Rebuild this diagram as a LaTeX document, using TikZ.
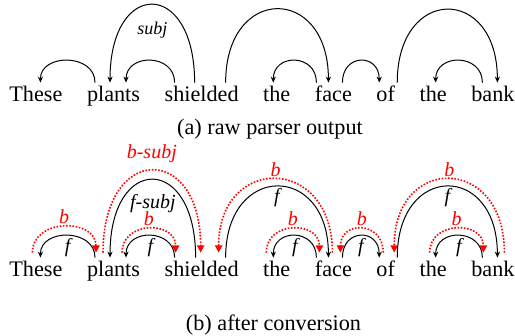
\documentclass[tikz,border=0pt]{standalone}
\usepackage{fontspec}
\setmainfont{Liberation Serif}
\usetikzlibrary{positioning, arrows.meta}

\newcommand{\wordsize}{\fontsize{11.1}{13}\selectfont}
\newcommand{\labsize}{\fontsize{10}{12}\selectfont\itshape}
\newcommand{\toplabsize}{\fontsize{9}{11}\selectfont\itshape}

\begin{document}
\begin{tikzpicture}[x=0.5pt, y=-0.5pt, node distance=11.9pt]
\tikzstyle{word} = [inner sep=0pt, text height=9.5pt, text depth=2.5pt, font=\wordsize]
\tikzstyle{fwd} = [draw, line width=0.5pt, -{Stealth[length=3pt, width=2.6pt]}]
\tikzstyle{bwd} = [draw, red, line width=0.8pt, dash pattern=on 0.8pt off 0.8pt,
    -{Triangle[length=3.6pt, width=3.6pt]}]
\tikzstyle{flabel} = [font=\labsize, inner sep=1pt]
\tikzstyle{blabel} = [font=\labsize, text=red, inner sep=1pt]

\useasboundingbox (0,0) rectangle (515,336);

% (a) raw parser output
\node (a1) [word, anchor=base west] at (9,102) {These};
\node (a2) [word, right=of a1] {plants};
\node (a3) [word, right=of a2] {shielded};
\node (a4) [word, right=of a3] {the};
\node (a5) [word, right=of a4] {face};
\node (a6) [word, right=of a5] {of};
\node (a7) [word, right=of a6] {the};
\node (a8) [word, right=of a7] {bank};
\node (capa) [font=\wordsize, anchor=base] at (270,135) {(a) raw parser output};

\path[fwd] ([xshift=-9.25pt]a2.north) .. controls +(0pt,14.7pt) and +(0pt,14.7pt) .. ([xshift=2.25pt]a1.north);
\path[fwd] ([xshift=-13.5pt]a3.north) .. controls +(0pt,14.7pt) and +(0pt,14.7pt) .. ([xshift=6.25pt]a2.north);
\path[fwd] ([xshift=-3.5pt]a3.north) .. controls +(0pt,52pt) and +(0pt,52pt) .. ([xshift=-1.75pt]a2.north)
    node[midway, below=7.5pt, flabel, font=\toplabsize] {subj};
\path[fwd] ([xshift=12pt]a3.north) .. controls +(0pt,49pt) and +(0pt,49pt) .. ([xshift=-2.5pt]a5.north);
\path[fwd] ([xshift=-8.5pt]a5.north) .. controls +(0pt,14.7pt) and +(0pt,14.7pt) .. ([xshift=-1.75pt]a4.north);
\path[fwd] ([xshift=4.5pt]a5.north) .. controls +(0pt,14.7pt) and +(0pt,14.7pt) .. ([xshift=-3.25pt]a6.north);
\path[fwd] ([xshift=5.75pt]a6.north) .. controls +(0pt,48.7pt) and +(0pt,48.7pt) .. ([xshift=2.25pt]a8.north);
\path[fwd] ([xshift=-5.25pt]a8.north) .. controls +(0pt,14.7pt) and +(0pt,14.7pt) .. ([xshift=1.25pt]a7.north);

% (b) after conversion
\node (b1) [word, anchor=base west] at (9,277) {These};
\node (b2) [word, right=of b1] {plants};
\node (b3) [word, right=of b2] {shielded};
\node (b4) [word, right=of b3] {the};
\node (b5) [word, right=of b4] {face};
\node (b6) [word, right=of b5] {of};
\node (b7) [word, right=of b6] {the};
\node (b8) [word, right=of b7] {bank};
\node (capb) [font=\wordsize, anchor=base] at (273.5,331) {(b) after conversion};

% forward arcs
\path[fwd] ([xshift=-9.25pt]b2.north) .. controls +(0pt,14.7pt) and +(0pt,14.7pt) .. ([xshift=2.25pt]b1.north)
    node[midway, below, flabel] {f};
\path[fwd] ([xshift=-13.5pt]b3.north) .. controls +(0pt,14.7pt) and +(0pt,14.7pt) .. ([xshift=6.25pt]b2.north)
    node[midway, below, flabel] {f};
\path[fwd] ([xshift=-3pt]b3.north) .. controls +(0pt,52pt) and +(0pt,52pt) .. ([xshift=-1.75pt]b2.north)
    node[midway, below=6pt, flabel] {f-subj};
\path[fwd] ([xshift=12pt]b3.north) .. controls +(0pt,47.5pt) and +(0pt,47.5pt) .. ([xshift=-2.5pt]b5.north)
    node[midway, below, flabel] {f};
\path[fwd] ([xshift=-8.5pt]b5.north) .. controls +(0pt,14.7pt) and +(0pt,14.7pt) .. ([xshift=-1.75pt]b4.north)
    node[midway, below, flabel] {f};
\path[fwd] ([xshift=4.5pt]b5.north) .. controls +(0pt,14.7pt) and +(0pt,14.7pt) .. ([xshift=-3.25pt]b6.north)
    node[midway, below, flabel] {f};
\path[fwd] ([xshift=5.75pt]b6.north) .. controls +(0pt,47.5pt) and +(0pt,47.5pt) .. ([xshift=2.25pt]b8.north)
    node[midway, below, flabel] {f};
\path[fwd] ([xshift=-5.25pt]b8.north) .. controls +(0pt,14.7pt) and +(0pt,14.7pt) .. ([xshift=1.25pt]b7.north)
    node[midway, below, flabel] {f};

% backward arcs
\path[bwd] ([xshift=-1.75pt, yshift=2.5pt]b1.north) .. controls +(0pt,17.3pt) and +(0pt,17.3pt) .. ([xshift=-8.75pt, yshift=2.5pt]b2.north)
    node[midway, above, blabel] {b};
\path[bwd] ([xshift=4.25pt, yshift=2.5pt]b2.north) .. controls +(0pt,16pt) and +(0pt,16pt) .. ([xshift=-13pt, yshift=2.5pt]b3.north)
    node[midway, above, blabel] {b};
\path[bwd] ([xshift=-5.25pt, yshift=2.5pt]b2.north) .. controls +(0pt,54.7pt) and +(0pt,54.7pt) .. ([xshift=-0.5pt, yshift=2.5pt]b3.north)
    node[midway, above=2.5pt, blabel] {b-subj};
\path[bwd] ([xshift=-0.5pt, yshift=2.5pt]b5.north) .. controls +(0pt,49pt) and +(0pt,49pt) .. ([xshift=8.5pt, yshift=2.5pt]b3.north)
    node[midway, above, blabel] {b};
\path[bwd] ([xshift=-5.25pt, yshift=2.5pt]b4.north) .. controls +(0pt,16pt) and +(0pt,16pt) .. ([xshift=-7pt, yshift=2.5pt]b5.north)
    node[midway, above, blabel] {b};
\path[bwd] ([xshift=-1.25pt, yshift=2.5pt]b6.north) .. controls +(0pt,16pt) and +(0pt,16pt) .. ([xshift=3.5pt, yshift=2.5pt]b5.north)
    node[midway, above, blabel] {b};
\path[bwd] ([xshift=5.75pt, yshift=2.5pt]b8.north) .. controls +(0pt,49pt) and +(0pt,49pt) .. ([xshift=4.25pt, yshift=2.5pt]b6.north)
    node[midway, above, blabel] {b};
\path[bwd] ([xshift=-1.75pt, yshift=2.5pt]b7.north) .. controls +(0pt,16pt) and +(0pt,16pt) .. ([xshift=-4.75pt, yshift=2.5pt]b8.north)
    node[midway, above, blabel] {b};
\end{tikzpicture}
\end{document}
